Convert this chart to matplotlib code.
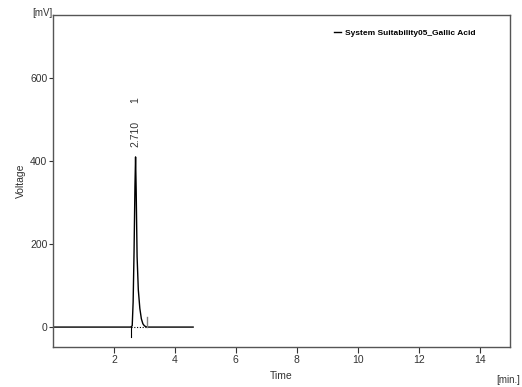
import matplotlib
matplotlib.use("Agg")
import matplotlib.pyplot as plt

# chromatogram trace (min, mV)
time_min = [0.0, 2.55, 2.60, 2.63, 2.66, 2.69, 2.71, 2.73, 2.76, 2.80, 2.85,
            2.90, 2.95, 3.00, 3.05, 3.10, 4.60]
voltage_mv = [0, 0, 3, 60, 180, 340, 410, 330, 170, 90, 45,
              20, 8, 3, 1, 0, 0]

peak_time = 2.710
peak_height = 410
peak_label = "1"
peak_start = 2.55
peak_end = 3.10

series_name = "System Suitability05_Gallic Acid"
x_ticks = [2, 4, 6, 8, 10, 12, 14]
y_ticks = [0, 200, 400, 600]

plt.rcParams['font.family'] = ['Liberation Sans', 'DejaVu Sans']

fig = plt.figure(figsize=(5.22, 3.87), dpi=100)
ax = fig.add_axes([53 / 522, 1 - 347 / 387, 457 / 522, 332 / 387])

ax.plot(time_min, voltage_mv, color='black', lw=1.0, label=series_name)

# integration baseline + peak markers
ax.plot([peak_start, peak_end], [0, 0], color='black', lw=0.8, ls=(0, (1, 1.5)))
ax.plot([peak_start, peak_start], [-25, 0], color='black', lw=0.8)
ax.plot([peak_end, peak_end], [0, 25], color='gray', lw=1.0)

ax.text(peak_time, peak_height + 25, f"{peak_time:.3f}", rotation=90,
        ha='center', va='bottom', fontsize=7.5, color='#333333')
ax.text(peak_time, peak_height + 130, peak_label, rotation=90,
        ha='center', va='bottom', fontsize=7.5, color='#333333')

ax.set_xlim(0, 15)
ax.set_ylim(-48, 752)
ax.set_xticks(x_ticks)
ax.set_yticks(y_ticks)
ax.tick_params(labelsize=7.5, width=0.8, colors='#333333')
ax.tick_params(axis='y', length=3, pad=1)
ax.tick_params(axis='x', length=4, pad=2)
for sp in ax.spines.values():
    sp.set_color('#555555')
    sp.set_linewidth(1.0)

ax.set_xlabel("Time", fontsize=7.5, color='#333333', labelpad=4)
ax.set_ylabel("Voltage", fontsize=7.5, color='#333333', labelpad=3)
fig.text(42 / 522, 1 - 13 / 387, "[mV]", ha='center', va='center', fontsize=7, color='#333333')
fig.text(508 / 522, 1 - 380 / 387, "[min.]", ha='center', va='center', fontsize=7, color='#333333')

leg = ax.legend(loc='upper right', bbox_to_anchor=(0.94, 0.98), frameon=False,
                handlelength=0.9, handletextpad=0.4,
                prop={'size': 6, 'weight': 'bold'})

fig.savefig("out.png", dpi=100)
